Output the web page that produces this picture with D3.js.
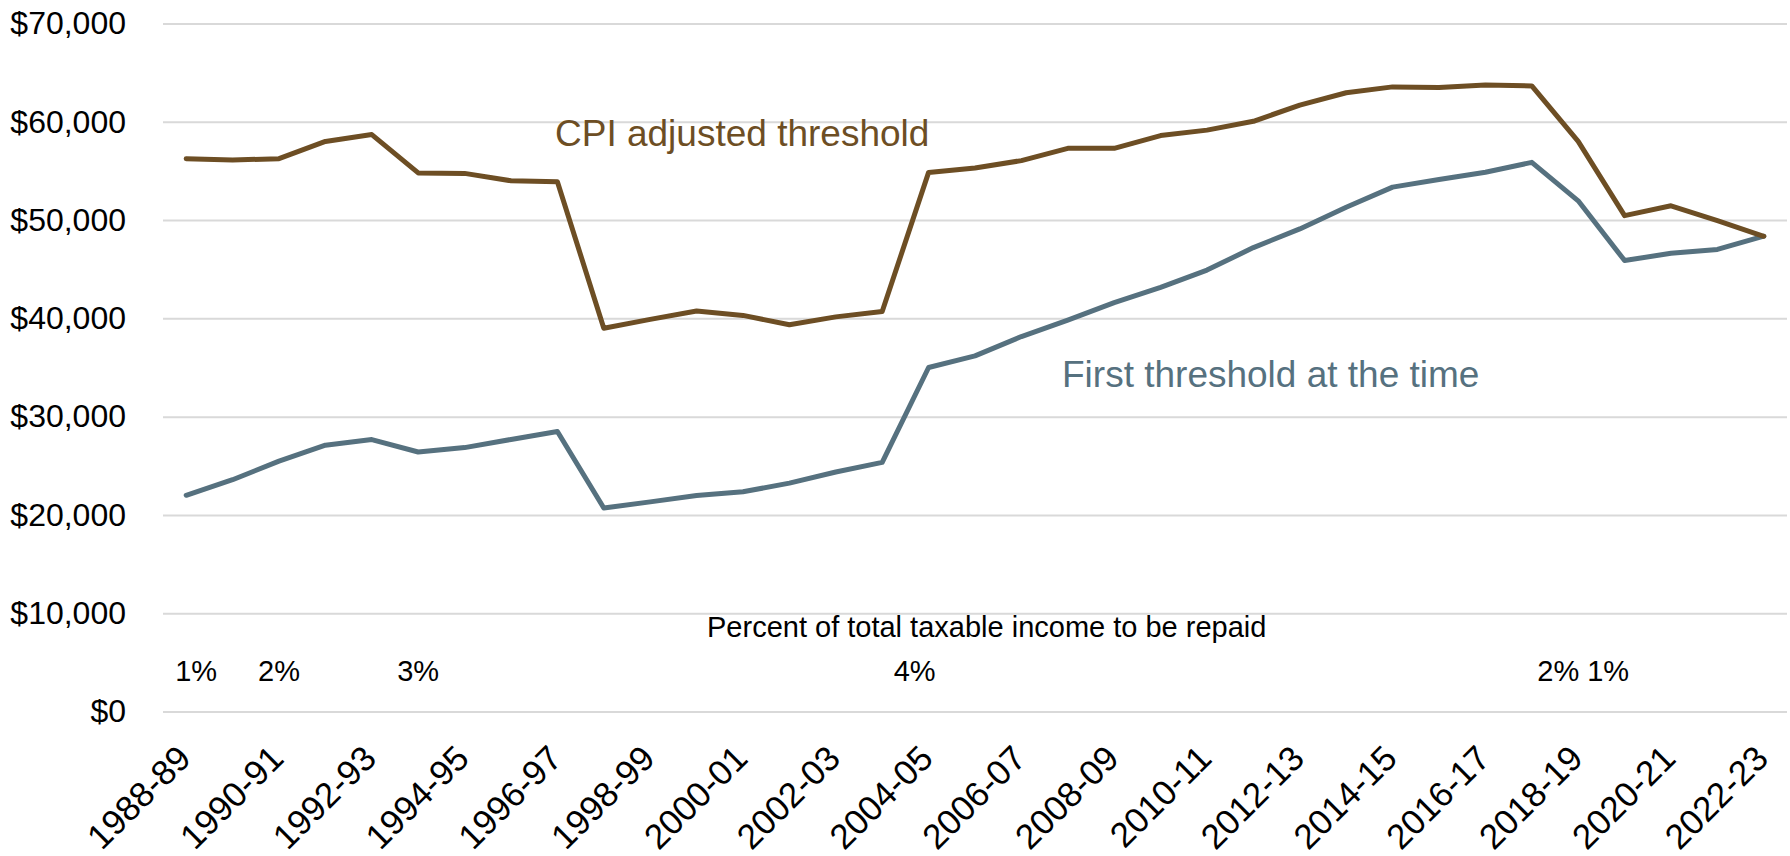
<!DOCTYPE html>
<html>
<head>
<meta charset="utf-8">
<script src="https://cdn.jsdelivr.net/npm/d3@7"></script>
<style>
  html, body { margin: 0; padding: 0; background: #ffffff; }
  svg { display: block; font-family: "Liberation Sans", Arial, sans-serif; }
</style>
</head>
<body>
<svg id="chart" width="1790" height="856"></svg>
<script>
// Income years (financial years)
const categories = [
  "1988-89","1989-90","1990-91","1991-92","1992-93","1993-94","1994-95",
  "1995-96","1996-97","1997-98","1998-99","1999-00","2000-01","2001-02",
  "2002-03","2003-04","2004-05","2005-06","2006-07","2007-08","2008-09",
  "2009-10","2010-11","2011-12","2012-13","2013-14","2014-15","2015-16",
  "2016-17","2017-18","2018-19","2019-20","2020-21","2021-22","2022-23"
];

// Minimum repayment threshold in today's dollars
const cpiAdjusted = [
  56250, 56100, 56250, 58000, 58700, 54800, 54750,
  54000, 53900, 39000, 39900, 40750, 40300, 39350,
  40150, 40700, 54850, 55300, 56050, 57300, 57300,
  58600, 59150, 60050, 61700, 62950, 63550, 63500,
  63750, 63650, 58000, 50450, 51450, 49950, 48350
];

// Minimum repayment threshold as set in each year
const firstThreshold = [
  22000, 23580, 25470, 27100, 27670, 26400, 26850,
  27680, 28490, 20700, 21330, 21980, 22350, 23240,
  24370, 25350, 35000, 36180, 38150, 39820, 41600,
  43150, 44910, 47200, 49100, 51310, 53350, 54130,
  54870, 55870, 51960, 45880, 46620, 47010, 48360
];

const yTicks = [0, 10000, 20000, 30000, 40000, 50000, 60000, 70000];
const xTickLabels = categories.filter((d, i) => i % 2 === 0);

// Repayment-rate notes shown along the bottom of the plot
const rateLabels = [
  { year: "1988-89", text: "1%" },
  { year: "1990-91", text: "2%" },
  { year: "1993-94", text: "3%" },
  { year: "2004-05", text: "4%" },
  { year: "2018-19", text: "2% 1%" }
];
const rateNudge = { "1988-89": 10, "1990-91": 0, "1993-94": 0, "2004-05": -14, "2018-19": 5 };

const svg = d3.select("#chart");
const plot = { left: 163, right: 1787, top: 23.5, bottom: 711.5 };

const x = d3.scalePoint()
  .domain(categories)
  .range([plot.left, plot.right])
  .padding(0.5);

const y = d3.scaleLinear()
  .domain([0, 70000])
  .range([plot.bottom, plot.top]);

// Y axis with horizontal gridlines
const yAxis = d3.axisLeft(y)
  .tickValues(yTicks)
  .tickSizeInner(-(plot.right - plot.left))
  .tickSizeOuter(0)
  .tickPadding(37)
  .tickFormat(d => "$" + d3.format(",")(d));

const gy = svg.append("g")
  .attr("transform", `translate(${plot.left},0)`)
  .call(yAxis);
gy.select(".domain").remove();
gy.selectAll(".tick line").attr("stroke", "#d9d9d9").attr("stroke-width", 2);
gy.selectAll(".tick text")
  .attr("fill", "#000")
  .style("font-size", "32px")
  .style("font-family", "'Liberation Sans', Arial, sans-serif");

// X axis with rotated year labels
const xAxis = d3.axisBottom(x)
  .tickValues(xTickLabels)
  .tickSize(0)
  .tickPadding(0);

const gx = svg.append("g")
  .attr("transform", `translate(0,${plot.bottom})`)
  .call(xAxis);
gx.select(".domain").remove();
gx.selectAll(".tick text")
  .attr("fill", "#000")
  .style("font-size", "35px")
  .style("font-family", "'Liberation Sans', Arial, sans-serif")
  .attr("text-anchor", "end")
  .attr("x", 0)
  .attr("y", 0)
  .attr("dy", 0)
  .attr("transform", "translate(6,49) rotate(-45)");

// Series lines
const line = d3.line()
  .x((d, i) => x(categories[i]))
  .y(d => y(d));

svg.append("path")
  .datum(firstThreshold)
  .attr("fill", "none")
  .attr("stroke", "#56717f")
  .attr("stroke-width", 5)
  .attr("stroke-linejoin", "round")
  .attr("stroke-linecap", "round")
  .attr("d", line);

svg.append("path")
  .datum(cpiAdjusted)
  .attr("fill", "none")
  .attr("stroke", "#6d4e24")
  .attr("stroke-width", 5)
  .attr("stroke-linejoin", "round")
  .attr("stroke-linecap", "round")
  .attr("d", line);

// Series labels
svg.append("text")
  .attr("x", 555)
  .attr("y", 146)
  .attr("fill", "#6d4e24")
  .style("font-size", "37px")
  .text("CPI adjusted threshold");

svg.append("text")
  .attr("x", 1062)
  .attr("y", 387)
  .attr("fill", "#56717f")
  .style("font-size", "37px")
  .text("First threshold at the time");

// Repayment rate notes
svg.append("text")
  .attr("x", 707)
  .attr("y", 637)
  .attr("fill", "#000")
  .style("font-size", "29px")
  .text("Percent of total taxable income to be repaid");

svg.append("g")
  .selectAll("text")
  .data(rateLabels)
  .join("text")
  .attr("x", d => x(d.year) + rateNudge[d.year])
  .attr("y", 681)
  .attr("text-anchor", "middle")
  .attr("fill", "#000")
  .style("font-size", "29px")
  .text(d => d.text);
</script>
</body>
</html>
